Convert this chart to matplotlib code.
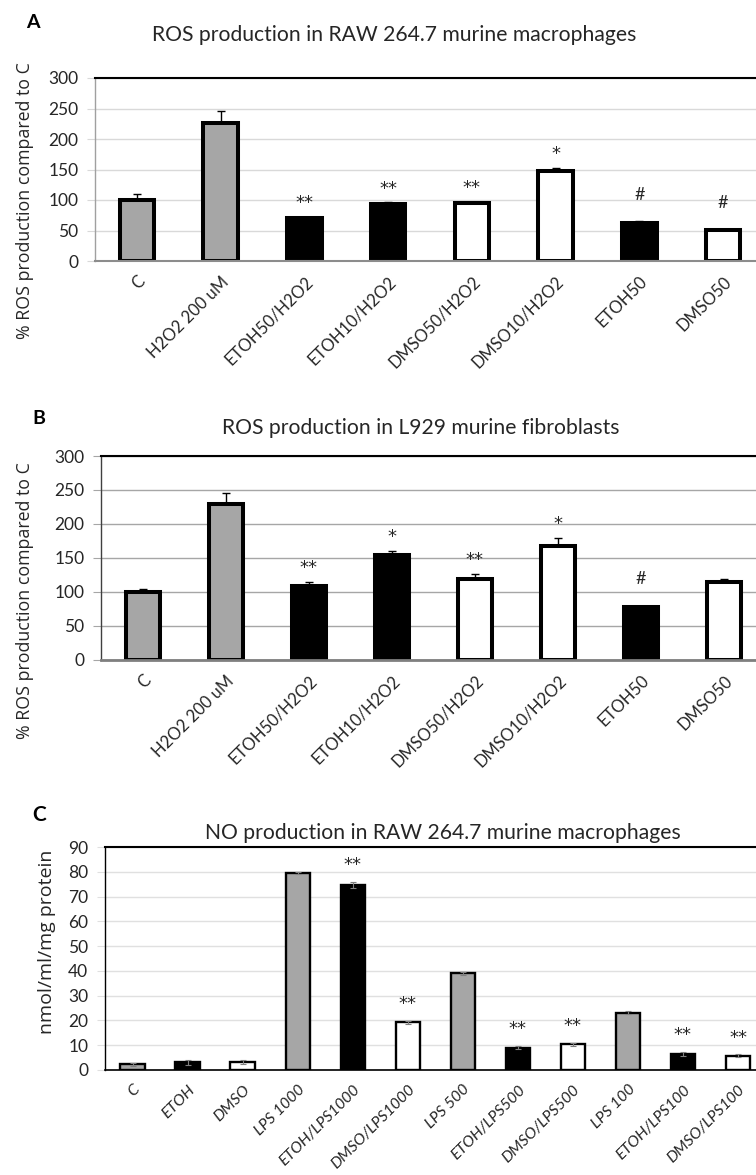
import numpy as np
import matplotlib.pyplot as plt

W, H = 756, 1175

# Panel A - ROS in RAW 264.7
a_labels = ['C', 'H2O2 200 uM', 'ETOH50/H2O2', 'ETOH10/H2O2', 'DMSO50/H2O2',
            'DMSO10/H2O2', 'ETOH50', 'DMSO50']
a_values = [100, 226, 70, 93, 95, 147, 63, 51]
a_errors = [10, 20, 2, 3, 2, 6, 2, 1.5]
a_fills = ['g', 'g', 'k', 'k', 'w', 'w', 'k', 'w']
a_sig = ['', '', '**', '**', '**', '*', '#', '#']

# Panel B - ROS in L929
b_labels = a_labels
b_values = [100, 230, 109, 154, 119, 168, 78, 114]
b_errors = [5, 16, 6, 6, 7, 12, 2, 5]
b_fills = ['g', 'g', 'k', 'k', 'w', 'w', 'k', 'w']
b_sig = ['', '', '**', '*', '**', '*', '#', '']

# Panel C - NO in RAW 264.7
c_labels = ['C', 'ETOH', 'DMSO', 'LPS 1000', 'ETOH/LPS1000', 'DMSO/LPS1000',
            'LPS 500', 'ETOH/LPS500', 'DMSO/LPS500', 'LPS 100', 'ETOH/LPS100',
            'DMSO/LPS100']
c_values = [2.4, 3.1, 3.1, 79.5, 74.6, 19.2, 39.1, 9.0, 10.3, 23.2, 6.4, 5.8]
c_errors = [0.6, 0.9, 0.8, 0.4, 1.3, 0.7, 0.6, 0.7, 0.6, 0.6, 0.9, 0.5]
c_fills = ['g', 'k', 'w', 'g', 'k', 'w', 'g', 'k', 'w', 'g', 'k', 'w']
c_sig = ['', '', '', '', '**', '**', '', '**', '**', '', '**', '**']

FILLS = {'g': '#a6a6a6', 'k': '#000000', 'w': '#ffffff'}
TXT = '#262626'


def px_axes(fig, left, top, right, bottom):
    return fig.add_axes([left / W, 1 - bottom / H, (right - left) / W, (bottom - top) / H])


def px_text(fig, x, y, s, **kw):
    fig.text(x / W, 1 - y / H, s, **kw)


def draw_panel(ax, labels, values, errors, fills, sigs, ymax, step, st):
    x = np.arange(len(labels))
    ax.bar(x, values, width=st['width'], color=[FILLS[f] for f in fills],
           edgecolor='black', linewidth=st['edge'], zorder=3)
    if st['up_only']:
        yerr = [np.zeros(len(errors)), errors]
    else:
        yerr = errors
    ax.errorbar(x, values, yerr=yerr, fmt='none', ecolor=st['ecolor'],
                elinewidth=st['elw'], capsize=st['cap'], capthick=st['elw'], zorder=4)
    for xi, v, e, s in zip(x, values, errors, sigs):
        if not s:
            continue
        if s == '#':
            ax.annotate(s, (xi, v + e), xytext=(0, st['gap_hash']), textcoords='offset points',
                        ha='center', va='center', fontsize=13, family='Lato', color=TXT)
        else:
            ax.annotate(s, (xi, v + e), xytext=(0, st['gap_star']), textcoords='offset points',
                        ha='center', va='center', fontsize=13, family='DejaVu Sans', color=TXT)

    ax.set_xlim(-0.5, len(labels) - 0.5)
    ax.set_ylim(0, ymax)
    ax.set_yticks(np.arange(0, ymax + 1, step))
    ax.yaxis.grid(True, color=st['grid'], linewidth=1.0, zorder=0)
    ax.set_axisbelow(True)
    ax.tick_params(axis='y', length=6, color=st['grid'], labelsize=st['ysize'],
                   labelcolor=TXT, pad=6)
    for lab in ax.get_yticklabels():
        lab.set_family('Lato')
    ax.set_xticks(x)
    ax.set_xticklabels(labels, rotation=45, ha='right', va='top', rotation_mode='anchor',
                       fontsize=st['xsize'], family='Lato', style=st['xstyle'], color=TXT)
    ax.tick_params(axis='x', length=0, pad=st['xpad'])

    ax.spines['right'].set_visible(False)
    ax.spines['top'].set_color('black')
    ax.spines['top'].set_linewidth(1.5)
    ax.spines['left'].set_color(st['left'])
    ax.spines['left'].set_linewidth(1.0)
    ax.spines['bottom'].set_color(st['bottom'])
    ax.spines['bottom'].set_linewidth(st['bottom_lw'])
    ax.spines['bottom'].set_zorder(5)


fig = plt.figure(figsize=(W / 100, H / 100), dpi=100)

style_ab = dict(width=0.41, edge=2.9, up_only=True, ecolor='black', elw=1.0, cap=3,
                gap_star=10, gap_hash=19, ysize=12.5, xsize=12, xstyle='normal', xpad=9)

ax_a = px_axes(fig, 95, 78, 765, 261)
draw_panel(ax_a, a_labels, a_values, a_errors, a_fills, a_sig, 300, 50,
           dict(style_ab, grid='#d9d9d9', left='#a0a0a0', bottom='#8c8c8c', bottom_lw=1.5))

ax_b = px_axes(fig, 101, 456, 765.5, 660)
draw_panel(ax_b, b_labels, b_values, b_errors, b_fills, b_sig, 300, 50,
           dict(style_ab, grid='#a6a6a6', left='#404040', bottom='#7f7f7f', bottom_lw=2.0))

ax_c = px_axes(fig, 105, 847, 765.5, 1070)
draw_panel(ax_c, c_labels, c_values, c_errors, c_fills, c_sig, 90, 10,
           dict(width=0.44, edge=1.7, up_only=False, ecolor='#7f7f7f', elw=0.8, cap=2,
                gap_star=12, gap_hash=19, ysize=12.5, xsize=11.3, xstyle='italic', xpad=9,
                grid='#e0e0e0', left='black', bottom='black', bottom_lw=1.2))

# titles and panel letters
px_text(fig, 394, 35, 'ROS production in RAW 264.7 murine macrophages', ha='center', va='center',
        fontsize=15.2, family='Lato', color=TXT)
px_text(fig, 421, 428, 'ROS production in L929 murine fibroblasts', ha='center', va='center',
        fontsize=15.2, family='Lato', color=TXT)
px_text(fig, 443, 833, 'NO production in RAW 264.7 murine macrophages', ha='center', va='center',
        fontsize=15.2, family='Lato', color=TXT)
px_text(fig, 33, 23, 'A', ha='center', va='center', fontsize=14, family='Lato',
        weight='bold', color='black')
px_text(fig, 39, 418, 'B', ha='center', va='center', fontsize=14, family='Lato',
        weight='bold', color='black')
px_text(fig, 39, 815, 'C', ha='center', va='center', fontsize=15, family='Lato',
        weight='bold', color='black')

# y axis labels
px_text(fig, 25, 201, '% ROS production compared to C', rotation=90, ha='center', va='center',
        fontsize=12.8, family='Open Sans', color=TXT)
px_text(fig, 25, 601, '% ROS production compared to C', rotation=90, ha='center', va='center',
        fontsize=12.8, family='Open Sans', color=TXT)
px_text(fig, 47, 942, 'nmol/ml/mg protein', rotation=90, ha='center', va='center',
        fontsize=14, family='Open Sans', color=TXT)

fig.savefig('out.png', dpi=100)
